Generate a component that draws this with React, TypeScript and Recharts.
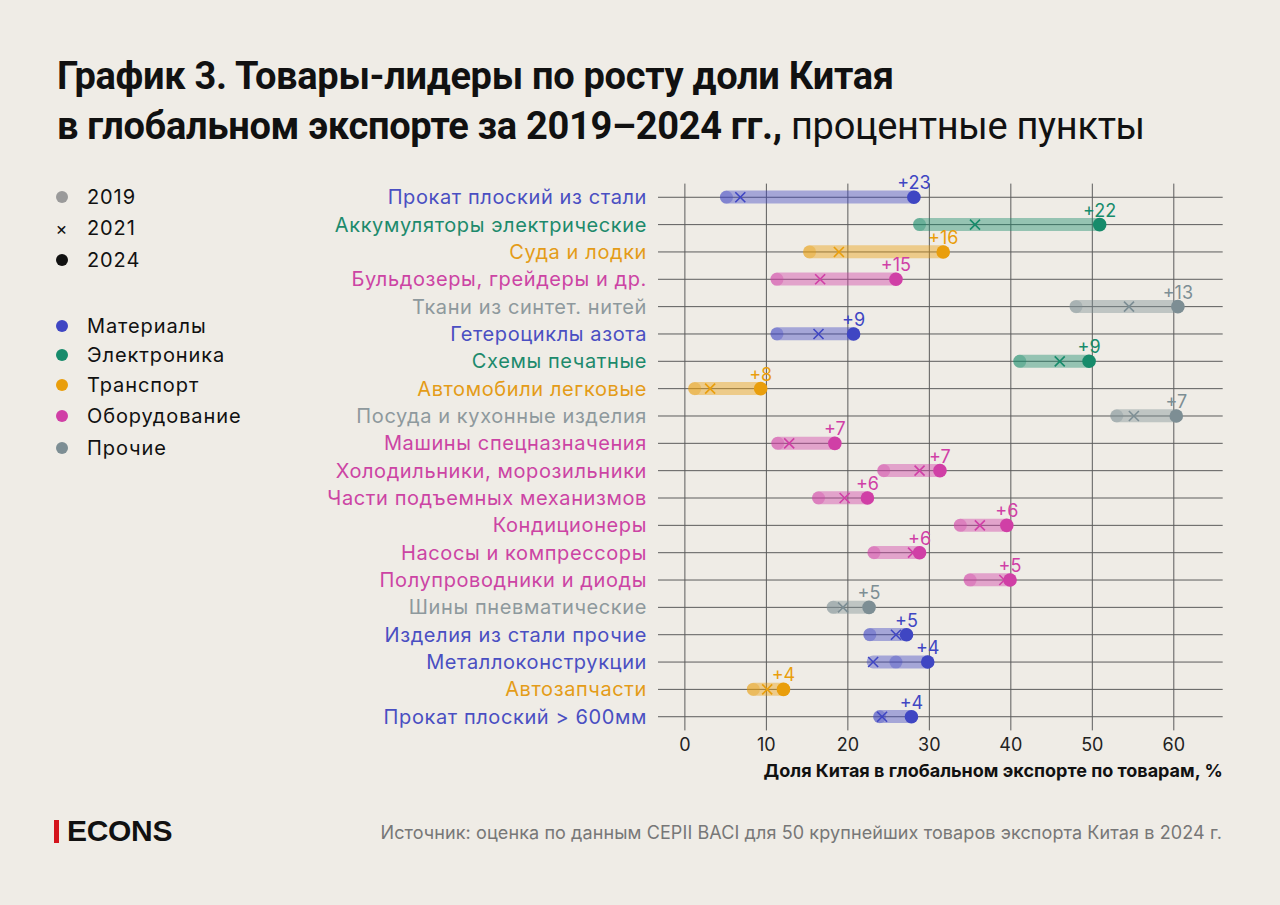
import React from 'react'
import { ComposedChart, Bar, Scatter, XAxis, YAxis, CartesianGrid } from 'recharts'

const BG = '#efece6'
const COL: Record<string, string> = { mat: '#3f46c3', el: '#178b6b', tr: '#e99e0c', eq: '#d03fa6', oth: '#7d8e94' }
const TXT: Record<string, string> = { mat: '#4a4fc2', el: '#1d8a6c', tr: '#e49c18', eq: '#cc44a4', oth: '#8e999d' }

// товары сверху вниз
const TOVARY = [
  'Прокат плоский из стали', 'Аккумуляторы электрические', 'Суда и лодки', 'Бульдозеры, грейдеры и др.',
  'Ткани из синтет. нитей', 'Гетероциклы азота', 'Схемы печатные', 'Автомобили легковые',
  'Посуда и кухонные изделия', 'Машины спецназначения', 'Холодильники, морозильники', 'Части подъемных механизмов',
  'Кондиционеры', 'Насосы и компрессоры', 'Полупроводники и диоды', 'Шины пневматические',
  'Изделия из стали прочие', 'Металлоконструкции', 'Автозапчасти', 'Прокат плоский > 600мм',
]
const GRUPPA = ['mat', 'el', 'tr', 'eq', 'oth', 'mat', 'el', 'tr', 'oth', 'eq', 'eq', 'eq', 'eq', 'eq', 'eq', 'oth', 'mat', 'mat', 'tr', 'mat']
const V2019 = [5.1, 28.8, 15.3, 11.3, 48.0, 11.3, 41.1, 1.2, 53.0, 11.4, 24.4, 16.4, 33.8, 23.2, 35.0, 18.2, 22.7, 25.9, 8.4, 23.9]
const V2021 = [6.8, 35.6, 18.9, 16.6, 54.5, 16.4, 46.0, 3.1, 55.1, 12.8, 28.8, 19.6, 36.2, 28.0, 39.2, 19.4, 25.9, 23.1, 10.1, 24.2]
const V2024 = [28.1, 50.9, 31.7, 25.9, 60.5, 20.7, 49.6, 9.3, 60.3, 18.4, 31.3, 22.4, 39.5, 28.8, 39.9, 22.6, 27.2, 29.8, 12.1, 27.8]
const PRIROST = ['+23', '+22', '+16', '+15', '+13', '+9', '+9', '+8', '+7', '+7', '+7', '+6', '+6', '+6', '+5', '+5', '+5', '+4', '+4', '+4']
const TICKS = [0, 10, 20, 30, 40, 50, 60]

const LEG_GOD = [['2019', 'dot', '#9a9a9a'], ['2021', 'x', '#111'], ['2024', 'dot', '#111']]
const LEG_GR = [['Материалы', 'mat'], ['Электроника', 'el'], ['Транспорт', 'tr'], ['Оборудование', 'eq'], ['Прочие', 'oth']]

const data = TOVARY.map((name, i) => ({
  name, g: GRUPPA[i], v19: V2019[i], v21: V2021[i], v24: V2024[i], d: PRIROST[i],
  band: [Math.min(V2019[i], V2021[i], V2024[i]), Math.max(V2019[i], V2021[i], V2024[i])],
}))

const FONT = 'Inter, "Liberation Sans", Arial, sans-serif'

const Polosa = (p: any) => {
  const h = 13, r = 6.5
  const cy = p.y + p.height / 2
  return <rect x={p.x - r} y={cy - h / 2} width={p.width + 2 * r} height={h} rx={r} fill={COL[p.payload.g]} fillOpacity={0.42} />
}
const Tochka19 = (p: any) => <circle cx={p.cx} cy={p.cy} r={6.5} fill={COL[p.payload.g]} fillOpacity={0.35} />
const Krest21 = (p: any) => {
  const s = 5
  return (
    <g stroke={COL[p.payload.g]} strokeWidth={1.6}>
      <line x1={p.cx - s} y1={p.cy - s} x2={p.cx + s} y2={p.cy + s} />
      <line x1={p.cx - s} y1={p.cy + s} x2={p.cx + s} y2={p.cy - s} />
    </g>
  )
}
const Tochka24 = (p: any) => (
  <g>
    <circle cx={p.cx} cy={p.cy} r={6.8} fill={COL[p.payload.g]} />
    <text x={p.cx} y={p.cy - 8} textAnchor="middle" fontSize={18} fontFamily={FONT} fill={COL[p.payload.g]}>{p.payload.d}</text>
  </g>
)
const Tovar = (p: any) => {
  const g = GRUPPA[p.index]
  return <text x={p.x - 3} y={p.y} dy="0.35em" textAnchor="end" fontSize={20} letterSpacing={0.6} fontFamily={FONT} fill={TXT[g]}>{p.payload.value}</text>
}
const OsPodpis = (p: any) => {
  const vb = p.viewBox
  return <text x={vb.x + vb.width} y={vb.y + 47} textAnchor="end" fontSize={18} fontWeight={700} fontFamily={FONT} fill="#111">Доля Китая в глобальном экспорте по товарам, %</text>
}

export default function App() {
  return (
    <div style={{ position: 'absolute', left: 0, top: 0, width: 1280, height: 905, background: BG, fontFamily: FONT, color: '#111', overflow: 'hidden' }}>
      <div style={{ position: 'absolute', left: 57, top: 51, fontFamily: 'Roboto, Arial, sans-serif', fontSize: 38, lineHeight: '50px', letterSpacing: -0.3, whiteSpace: 'nowrap' }}>
        <div style={{ fontWeight: 700 }}>График 3. Товары-лидеры по росту доли Китая</div>
        <div><b>в глобальном экспорте за 2019–2024 гг.,</b> процентные пункты</div>
      </div>

      <div style={{ position: 'absolute', left: 0, top: 0, letterSpacing: 0.9 }}>
        {LEG_GOD.map(([t, kind, c], i) => (
          <div key={t} style={{ position: 'absolute', left: 55, top: [197, 228, 260][i] - 13, height: 26, display: 'flex', alignItems: 'center', fontSize: 20, whiteSpace: 'nowrap' }}>
            <span style={{ width: 14, display: 'inline-flex', justifyContent: 'center', color: c, fontSize: 18 }}>
              {kind === 'dot' ? <span style={{ width: 12, height: 12, borderRadius: 6, background: c }} /> : '×'}
            </span>
            <span style={{ marginLeft: 18 }}>{t}</span>
          </div>
        ))}
        {LEG_GR.map(([t, g], i) => (
          <div key={t} style={{ position: 'absolute', left: 55, top: [326, 355, 385, 416, 448][i] - 13, height: 26, display: 'flex', alignItems: 'center', fontSize: 20, whiteSpace: 'nowrap' }}>
            <span style={{ width: 14, display: 'inline-flex', justifyContent: 'center' }}>
              <span style={{ width: 12, height: 12, borderRadius: 6, background: COL[g] }} />
            </span>
            <span style={{ marginLeft: 18 }}>{t}</span>
          </div>
        ))}
      </div>

      <div style={{ position: 'absolute', left: 0, top: 0 }}>
        <ComposedChart layout="vertical" width={1280} height={800} data={data} margin={{ top: 183.6, right: 57.3, bottom: 9.6, left: 0 }}>
          <CartesianGrid stroke="#5c5c5c" strokeWidth={1} syncWithTicks />
          <XAxis type="number" domain={[-3.3, 66]} ticks={TICKS} allowDataOverflow axisLine={false} tickLine={false} height={60}
            tick={{ fontSize: 18, fill: '#222', fontFamily: FONT }} label={<OsPodpis />} />
          <YAxis type="category" dataKey="name" width={658} axisLine={false} tickLine={false} interval={0} tick={<Tovar />} />
          <Bar dataKey="band" barSize={13} shape={<Polosa />} isAnimationActive={false} />
          <Scatter dataKey="v19" shape={<Tochka19 />} isAnimationActive={false} />
          <Scatter dataKey="v21" shape={<Krest21 />} isAnimationActive={false} />
          <Scatter dataKey="v24" shape={<Tochka24 />} isAnimationActive={false} />
        </ComposedChart>
      </div>

      <div style={{ position: 'absolute', left: 54, top: 820, width: 5, height: 23, background: '#d4141c' }} />
      <div style={{ position: 'absolute', left: 67, top: 813, fontFamily: '"Liberation Sans", Arial, sans-serif', fontWeight: 700, fontSize: 30, lineHeight: '36px', letterSpacing: -0.3 }}>ECONS</div>
      <div style={{ position: 'absolute', right: 58, top: 822, fontSize: 18, letterSpacing: 0.1, color: '#777', whiteSpace: 'nowrap' }}>
        Источник: оценка по данным CEPII BACI для 50 крупнейших товаров экспорта Китая в 2024 г.
      </div>
    </div>
  )
}
